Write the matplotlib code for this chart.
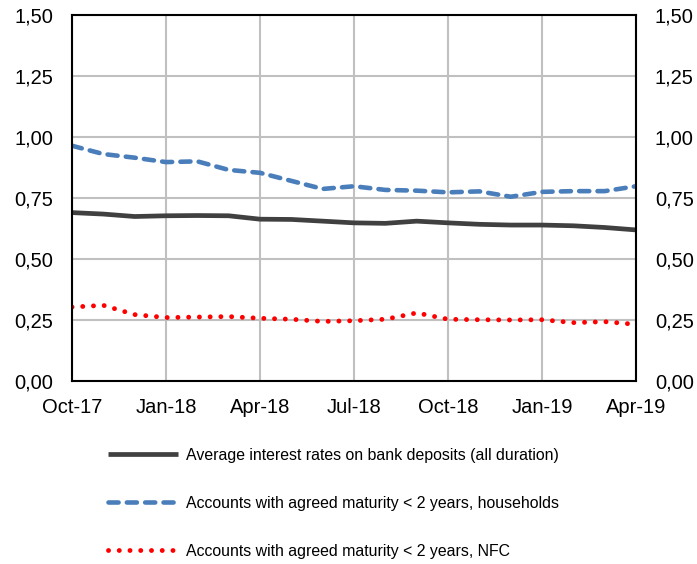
import matplotlib.pyplot as plt

plt.rcParams['font.family'] = ['Liberation Sans', 'DejaVu Sans']

# monthly data, Oct-17 .. Apr-19
months = ['Oct-17', 'Nov-17', 'Dec-17', 'Jan-18', 'Feb-18', 'Mar-18', 'Apr-18',
          'May-18', 'Jun-18', 'Jul-18', 'Aug-18', 'Sep-18', 'Oct-18', 'Nov-18',
          'Dec-18', 'Jan-19', 'Feb-19', 'Mar-19', 'Apr-19']
avg_all = [0.69, 0.684, 0.674, 0.677, 0.678, 0.677, 0.663, 0.662, 0.655, 0.648,
           0.646, 0.655, 0.648, 0.642, 0.639, 0.639, 0.636, 0.629, 0.619]
households = [0.964, 0.93, 0.915, 0.897, 0.90, 0.865, 0.853, 0.82, 0.787, 0.798,
              0.783, 0.78, 0.773, 0.777, 0.755, 0.775, 0.778, 0.778, 0.798]
nfc = [0.303, 0.31, 0.272, 0.26, 0.262, 0.264, 0.257, 0.253, 0.244, 0.247,
       0.253, 0.279, 0.253, 0.251, 0.25, 0.251, 0.239, 0.243, 0.232]

labels = ['Average interest rates on bank deposits (all duration)',
          'Accounts with agreed maturity < 2 years, households',
          'Accounts with agreed maturity < 2 years, NFC']

yticks = [0, 0.25, 0.5, 0.75, 1.0, 1.25, 1.5]

fig = plt.figure(figsize=(6.97, 5.64), dpi=100)
ax = fig.add_axes([0.1033, 0.3245, 0.8092, 0.649])

x = list(range(len(months)))
ax.plot(x, avg_all, color='#404040', lw=3.4, solid_capstyle='butt', label=labels[0], zorder=3)
ax.plot(x, households, color='#4a7ebb', lw=3.3, linestyle=(0, (2.2, 1.8)),
        dash_capstyle='round', label=labels[1], zorder=3)
ax.plot(x, nfc, color='#ff0000', lw=3.5, linestyle=(0, (0.01, 2.2)),
        dash_capstyle='round', label=labels[2], zorder=3)

ax.set_xlim(0, len(months) - 1)
ax.set_ylim(0, 1.5)
ax.set_xticks(x[::3])
ax.set_xticklabels(months[::3])
ax.set_yticks(yticks)
ax.set_yticklabels([('%.2f' % v).replace('.', ',') for v in yticks])
ax.grid(True, color='#c0c0c0', lw=1.5)
ax.set_axisbelow(True)
ax.tick_params(length=0, labelsize=14.5, labelright=True, pad=13.5)
ax.tick_params(axis='x', pad=12.5)
for s in ax.spines.values():
    s.set_color('black')
    s.set_linewidth(1.5)
    s.set_zorder(4)

fig.legend(loc='upper left', bbox_to_anchor=(0.155, 0.2057), frameon=False,
           fontsize=11.4, handlelength=4.43, handletextpad=0.5, labelspacing=2.07,
           borderpad=0, borderaxespad=0)

fig.savefig('out.png', dpi=100)
